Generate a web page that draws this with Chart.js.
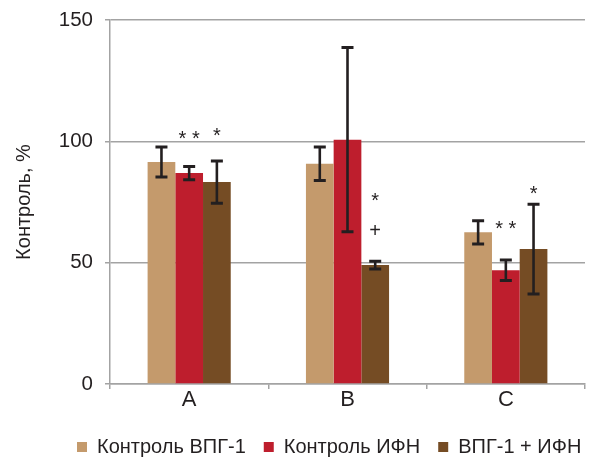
<!DOCTYPE html>
<html>
<head>
<meta charset="utf-8">
<script src="https://cdn.jsdelivr.net/npm/chart.js@4"></script>
<style>
  html, body { margin: 0; padding: 0; background: #ffffff; }
  #wrap { width: 591px; height: 463px; }
</style>
</head>
<body>
<div id="wrap"><canvas id="chart"></canvas></div>
<script>
// Categories and series
const categories = ['A', 'B', 'C'];
const seriesNames = ['Контроль ВПГ-1', 'Контроль ИФН', 'ВПГ-1 + ИФН'];
const ctrlVpg = [91.5, 90.8, 62.5];
const ctrlVpgErr = [6.2, 6.9, 4.8];
const ctrlIfn = [86.9, 100.7, 46.9];
const ctrlIfnErr = [2.7, 38.0, 4.2];
const vpgIfn = [83.2, 49.0, 55.6];
const vpgIfnErr = [8.7, 1.6, 18.5];

// Significance marks: text, series index, category index, level on the value axis
const markTexts = ['* *', '*', '*', '+', '* *', '*'];
const markSeries = [1, 2, 2, 2, 1, 2];
const markCats = [0, 0, 1, 1, 2, 2];
const markLevels = [102.5, 103.8, 77.0, 63.5, 65.7, 80.0];

// Value axis ticks
const yTicks = [0, 50, 100, 150];

const colors = ['#c49a6c', '#be1e2d', '#754c24'];
const errors = [ctrlVpgErr, ctrlIfnErr, vpgIfnErr];
const ink = '#231f20';
const axisGray = '#a3a3a3';
const sans = "'Liberation Sans', Arial, sans-serif";

// Error bars (mean ± error) drawn through the chart scales
const errorBars = {
  id: 'errorBars',
  afterDatasetsDraw(chart) {
    const ctx = chart.ctx;
    const y = chart.scales.y;
    ctx.save();
    ctx.strokeStyle = ink;
    chart.data.datasets.forEach((ds, i) => {
      const meta = chart.getDatasetMeta(i);
      meta.data.forEach((bar, j) => {
        const v = ds.data[j];
        const e = errors[i][j];
        const top = y.getPixelForValue(v + e);
        const bot = y.getPixelForValue(v - e);
        const x = bar.x;
        ctx.lineWidth = 2.6;
        ctx.beginPath();
        ctx.moveTo(x, top);
        ctx.lineTo(x, bot);
        ctx.stroke();
        ctx.lineWidth = 3;
        ctx.beginPath();
        ctx.moveTo(x - 6, top);
        ctx.lineTo(x + 6, top);
        ctx.moveTo(x - 6, bot);
        ctx.lineTo(x + 6, bot);
        ctx.stroke();
      });
    });
    ctx.restore();
  }
};

// Significance marks centred over their bars
const marks = {
  id: 'marks',
  afterDatasetsDraw(chart) {
    const ctx = chart.ctx;
    const y = chart.scales.y;
    ctx.save();
    ctx.fillStyle = ink;
    ctx.font = '20px ' + sans;
    ctx.textAlign = 'center';
    ctx.textBaseline = 'alphabetic';
    markTexts.forEach((t, k) => {
      const bar = chart.getDatasetMeta(markSeries[k]).data[markCats[k]];
      const m = ctx.measureText(t);
      const cy = y.getPixelForValue(markLevels[k]);
      const base = cy + (m.actualBoundingBoxAscent - m.actualBoundingBoxDescent) / 2;
      ctx.fillText(t, bar.x, base);
    });
    ctx.restore();
  }
};

// Legend placement along the bottom edge
const legendPlace = {
  id: 'legendPlace',
  afterLayout(chart) {
    const lg = chart.legend;
    if (!lg) return;
    const w = lg.right - lg.left;
    lg.left = 59;
    lg.right = lg.left + w + 100;
    const h = lg.bottom - lg.top;
    lg.top = 419;
    lg.bottom = lg.top + h;
  }
};

new Chart(document.getElementById('chart'), {
  type: 'bar',
  data: {
    labels: categories,
    datasets: [
      { label: seriesNames[0], data: ctrlVpg, backgroundColor: colors[0] },
      { label: seriesNames[1], data: ctrlIfn, backgroundColor: colors[1] },
      { label: seriesNames[2], data: vpgIfn, backgroundColor: colors[2] }
    ]
  },
  options: {
    responsive: true,
    maintainAspectRatio: false,
    animation: false,
    devicePixelRatio: 1,
    layout: { padding: { left: 8, right: 6, top: 20, bottom: 0 } },
    datasets: {
      bar: { barPercentage: 1, categoryPercentage: 0.525, borderWidth: 0 }
    },
    plugins: {
      tooltip: { enabled: false },
      legend: {
        position: 'bottom',
        align: 'start',
        labels: {
          boxWidth: 10,
          boxHeight: 10,
          padding: 18,
          color: ink,
          font: { family: sans, size: 20 }
        }
      }
    },
    scales: {
      x: {
        offset: true,
        afterFit(scale) { scale.height = 31; },
        grid: {
          display: true,
          offset: true,
          drawOnChartArea: false,
          drawTicks: true,
          tickLength: 5,
          color: axisGray,
          lineWidth: 1.5
        },
        border: { display: true, color: axisGray, width: 1.5 },
        ticks: {
          color: ink,
          padding: -2,
          font: { family: sans, size: 22 }
        }
      },
      y: {
        min: 0,
        max: 150,
        afterFit(scale) {
          scale.width = 102;
          scale.paddingTop = 0;
          scale.paddingBottom = 0;
        },
        afterBuildTicks(scale) { scale.ticks = yTicks.map(v => ({ value: v })); },
        grid: {
          color: axisGray,
          lineWidth: 1.5,
          tickLength: 5
        },
        border: { display: true, color: axisGray, width: 1.5 },
        ticks: {
          color: ink,
          padding: 12,
          font: { family: sans, size: 20.5 }
        },
        title: {
          display: true,
          text: 'Контроль, %',
          color: ink,
          padding: { top: 4, bottom: 4 },
          font: { family: sans, size: 20 }
        }
      }
    }
  },
  plugins: [errorBars, marks, legendPlace]
});
</script>
</body>
</html>
